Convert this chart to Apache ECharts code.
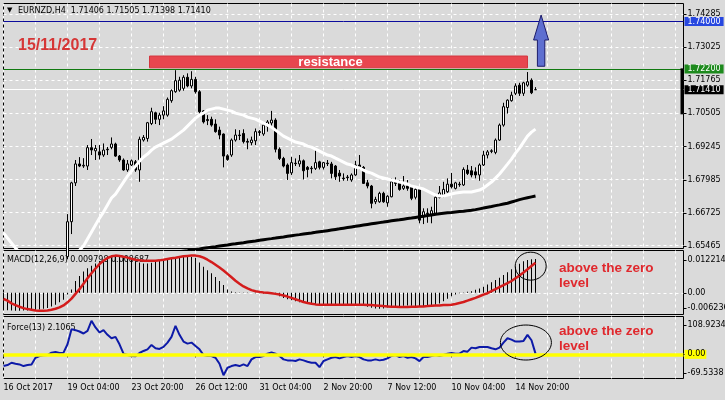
<!DOCTYPE html>
<html><head><meta charset="utf-8">
<script src="https://cdn.jsdelivr.net/npm/echarts@6/dist/echarts.min.js"></script>
<style>html,body{margin:0;padding:0;background:#dadada;}#c{width:725px;height:400px;}</style>
</head><body><div id="c"></div>
<script>
// ---------- data ----------
const xTickLabels = ['16 Oct 2017','19 Oct 04:00','23 Oct 20:00','26 Oct 12:00','31 Oct 04:00','2 Nov 20:00','7 Nov 12:00','10 Nov 04:00','14 Nov 20:00'];
const barSlots = Array.from({length: 171}, (_, k) => String(k)); // H4 bar slots (incl. empty right margin)
const mainTicks = [1.74285, 1.73025, 1.71765, 1.70505, 1.69245, 1.67985, 1.66725, 1.65465];
const levelBlue = 1.74000;
const levelGreen = 1.72200;

const opens = [null,null,null,null,null,null,null,null,null,null,null,null,null,null,null,null,
1.6505,1.6638,1.6786,1.6858,1.6850,1.6850,1.6920,1.6908,1.6904,1.6892,
1.6914,1.6921,1.6934,1.6888,1.6873,1.6835,1.6854,1.6866,1.6835,1.6949,
1.6955,1.7012,1.7053,1.7028,1.7044,1.7044,1.7099,1.7133,1.7139,1.7146,
1.7188,1.7155,1.7180,1.7133,1.7060,1.7027,1.7028,1.7010,1.6987,1.6972,
1.6889,1.6892,1.6949,1.6968,1.6974,1.6944,1.6939,1.6946,1.6981,1.6972,
1.7002,1.7014,1.7025,1.6914,1.6879,1.6854,1.6824,1.6861,1.6858,1.6870,
1.6845,1.6842,1.6841,1.6866,1.6845,1.6861,1.6858,1.6850,1.6823,1.6804,
1.6808,1.6797,1.6816,1.6854,1.6845,1.6786,1.6774,1.6714,1.6714,1.6746,
1.6710,1.6733,1.6790,1.6786,1.6765,1.6774,1.6771,1.6731,1.6761,1.6657,
1.6671,1.6667,1.6670,1.6731,1.6739,1.6752,1.6781,1.6765,1.6781,1.6778,
1.6835,1.6832,1.6828,1.6816,1.6854,1.6892,1.6908,1.6902,1.6949,1.7006,
1.7073,1.7099,1.7127,1.7158,1.7127,1.7158,1.7177,1.71406];
const highs = [null,null,null,null,null,null,null,null,null,null,null,null,null,null,null,null,
1.6667,1.6790,1.6873,1.6884,1.6880,1.6930,1.6953,1.6930,1.6930,1.6936,
1.6923,1.6959,1.6939,1.6892,1.6879,1.6873,1.6875,1.6873,1.6962,1.6968,
1.7018,1.7072,1.7057,1.7053,1.7078,1.7111,1.7142,1.7215,1.7190,1.7196,
1.7203,1.7211,1.7190,1.7139,1.7063,1.7044,1.7038,1.7028,1.7000,1.6974,
1.6895,1.6955,1.6990,1.6987,1.6990,1.6955,1.6962,1.6993,1.6987,1.7012,
1.7025,1.7060,1.7032,1.6921,1.6885,1.6860,1.6885,1.6879,1.6892,1.6875,
1.6850,1.6850,1.6917,1.6870,1.6866,1.6873,1.6866,1.6854,1.6835,1.6822,
1.6816,1.6822,1.6870,1.6892,1.6850,1.6797,1.6778,1.6733,1.6752,1.6752,
1.6739,1.6803,1.6807,1.6797,1.6812,1.6797,1.6778,1.6771,1.6769,1.6689,
1.6689,1.6695,1.6739,1.6774,1.6790,1.6803,1.6824,1.6790,1.6790,1.6845,
1.6854,1.6850,1.6845,1.6860,1.6908,1.6911,1.6914,1.6955,1.7012,1.7091,
1.7104,1.7133,1.7165,1.7167,1.7171,1.7208,1.7184,1.71505];
const lows = [null,null,null,null,null,null,null,null,null,null,null,null,null,null,null,null,
1.6495,1.6591,1.6774,1.6846,1.6843,1.6835,1.6892,1.6873,1.6875,1.6885,
1.6892,1.6914,1.6885,1.6866,1.6832,1.6828,1.6850,1.6828,1.6790,1.6943,
1.6943,1.7006,1.7010,1.7006,1.7028,1.7038,1.7091,1.7129,1.7133,1.7137,
1.7150,1.7146,1.7126,1.7050,1.7012,1.7006,1.7000,1.6977,1.6952,1.6845,
1.6870,1.6885,1.6943,1.6949,1.6936,1.6914,1.6929,1.6930,1.6965,1.6965,
1.6981,1.7000,1.6902,1.6873,1.6845,1.6797,1.6816,1.6850,1.6847,1.6799,
1.6807,1.6822,1.6835,1.6837,1.6837,1.6850,1.6803,1.6797,1.6790,1.6794,
1.6794,1.6790,1.6813,1.6835,1.6782,1.6765,1.6689,1.6705,1.6710,1.6710,
1.6695,1.6731,1.6774,1.6756,1.6759,1.6756,1.6720,1.6723,1.6632,1.6629,
1.6634,1.6632,1.6663,1.6727,1.6731,1.6748,1.6765,1.6761,1.6771,1.6774,
1.6816,1.6807,1.6803,1.6794,1.6850,1.6879,1.6899,1.6895,1.6946,1.7000,
1.7050,1.7095,1.7120,1.7117,1.7117,1.7152,1.7124,1.71398];
const closes = [null,null,null,null,null,null,null,null,null,null,null,null,null,null,null,null,
1.6638,1.6786,1.6858,1.6850,1.6853,1.6920,1.6911,1.6917,1.6892,1.6911,
1.6912,1.6934,1.6888,1.6873,1.6835,1.6858,1.6870,1.6835,1.6952,1.6959,
1.7015,1.7057,1.7028,1.7044,1.7060,1.7104,1.7137,1.7175,1.7177,1.7188,
1.7155,1.7180,1.7133,1.7057,1.7018,1.7023,1.7006,1.6981,1.6968,1.6888,
1.6875,1.6949,1.6968,1.6966,1.6943,1.6941,1.6949,1.6981,1.6978,1.7006,
1.7018,1.7025,1.6914,1.6879,1.6850,1.6822,1.6863,1.6859,1.6870,1.6832,
1.6837,1.6840,1.6863,1.6845,1.6863,1.6859,1.6822,1.6809,1.6812,1.6802,
1.6806,1.6816,1.6854,1.6841,1.6784,1.6774,1.6708,1.6723,1.6746,1.6714,
1.6735,1.6790,1.6784,1.6761,1.6774,1.6765,1.6727,1.6761,1.6644,1.6676,
1.6669,1.6680,1.6731,1.6748,1.6761,1.6781,1.6771,1.6786,1.6779,1.6837,
1.6822,1.6816,1.6816,1.6854,1.6892,1.6904,1.6906,1.6949,1.7006,1.7076,
1.7101,1.7120,1.7155,1.7127,1.7167,1.7171,1.7129,1.71410];

const maFast = [1.65949,1.65758,1.65568,1.65378,1.65225,1.65073,1.64959,1.64845,1.64769,1.64692,
1.64654,1.64616,1.64616,1.64616,1.64654,1.64731,1.64845,1.64997,1.65149,1.65301,
1.65454,1.65720,1.65987,1.66253,1.66519,1.66748,1.67014,1.67281,1.67433,1.67662,
1.67890,1.68118,1.68309,1.68499,1.68689,1.68842,1.68956,1.69108,1.69222,1.69298,
1.69375,1.69451,1.69527,1.69641,1.69755,1.69869,1.70022,1.70174,1.70326,1.70440,
1.70516,1.70631,1.70669,1.70707,1.70707,1.70669,1.70631,1.70593,1.70516,1.70478,
1.70440,1.70364,1.70326,1.70288,1.70212,1.70136,1.70060,1.69984,1.69869,1.69755,
1.69641,1.69565,1.69489,1.69413,1.69375,1.69337,1.69260,1.69222,1.69146,1.69070,
1.68994,1.68918,1.68880,1.68803,1.68727,1.68651,1.68575,1.68537,1.68461,1.68423,
1.68347,1.68271,1.68232,1.68156,1.68080,1.68042,1.68004,1.67966,1.67928,1.67890,
1.67852,1.67814,1.67738,1.67700,1.67662,1.67623,1.67547,1.67471,1.67395,1.67357,
1.67357,1.67395,1.67433,1.67471,1.67490,1.67509,1.67509,1.67509,1.67547,1.67585,
1.67662,1.67776,1.67890,1.68042,1.68195,1.68385,1.68575,1.68766,1.68994,1.69184,
1.69413,1.69641,1.69793,1.69907];
const maSlow = [null,null,null,null,null,null,null,null,null,null,null,null,null,null,null,null,null,null,null,null,
null,null,null,null,null,null,null,null,null,null,null,null,null,null,null,null,null,null,null,null,
1.65149,1.65172,1.65195,1.65214,1.65237,1.65260,1.65279,1.65302,1.65324,1.65343,
1.65366,1.65389,1.65412,1.65431,1.65454,1.65477,1.65496,1.65519,1.65541,1.65564,
1.65583,1.65606,1.65629,1.65648,1.65671,1.65694,1.65717,1.65736,1.65758,1.65781,
1.65800,1.65823,1.65846,1.65869,1.65888,1.65911,1.65934,1.65953,1.65975,1.65998,
1.66017,1.66040,1.66063,1.66086,1.66109,1.66135,1.66158,1.66181,1.66204,1.66230,
1.66253,1.66276,1.66299,1.66322,1.66345,1.66367,1.66390,1.66413,1.66436,1.66455,
1.66478,1.66501,1.66519,1.66542,1.66565,1.66588,1.66615,1.66638,1.66661,1.66683,
1.66702,1.66718,1.66733,1.66752,1.66767,1.66782,1.66801,1.66817,1.66840,1.66870,
1.66900,1.66931,1.66961,1.66992,1.67022,1.67053,1.67083,1.67129,1.67175,1.67220,
1.67258,1.67292,1.67326,1.67360];

const macdMain = [-0.00488,-0.00498,-0.00508,-0.00517,-0.00517,-0.00508,-0.00508,-0.00498,-0.00488,-0.00478,
-0.00459,-0.00439,-0.00390,-0.00342,-0.00273,-0.00195,-0.00049,0.00098,0.00342,0.00488,
0.00615,0.00712,0.00781,0.00849,0.00908,0.00956,0.01005,0.01025,0.01044,0.01044,
0.01025,0.00996,0.00947,0.00908,0.00878,0.00849,0.00849,0.00869,0.00888,0.00927,
0.00947,0.00956,0.00976,0.01005,0.01025,0.01035,0.01044,0.01035,0.01015,0.00878,
0.00752,0.00654,0.00566,0.00459,0.00342,0.00224,0.00098,0.00039,0.00020,0.00010,
0.00010,0.00010,0.00002,-0.00010,-0.00010,-0.00020,-0.00029,-0.00029,-0.00049,-0.00098,
-0.00146,-0.00185,-0.00215,-0.00244,-0.00273,-0.00293,-0.00312,-0.00322,-0.00332,-0.00342,
-0.00342,-0.00342,-0.00342,-0.00342,-0.00342,-0.00342,-0.00342,-0.00342,-0.00342,-0.00351,
-0.00361,-0.00400,-0.00429,-0.00449,-0.00459,-0.00449,-0.00420,-0.00400,-0.00390,-0.00381,
-0.00371,-0.00361,-0.00371,-0.00400,-0.00400,-0.00390,-0.00381,-0.00361,-0.00342,-0.00303,
-0.00244,-0.00166,-0.00098,-0.00049,-0.00010,0.00010,0.00029,0.00049,0.00088,0.00127,
0.00176,0.00244,0.00303,0.00371,0.00439,0.00517,0.00595,0.00683,0.00761,0.00839,
0.00908,0.00947,0.00966,0.00976];
const macdSignal = [-0.00176,-0.00224,-0.00303,-0.00351,-0.00400,-0.00439,-0.00468,-0.00488,-0.00508,-0.00517,
-0.00517,-0.00508,-0.00488,-0.00459,-0.00420,-0.00361,-0.00273,-0.00166,-0.00029,0.00107,
0.00264,0.00420,0.00566,0.00703,0.00830,0.00927,0.01005,0.01054,0.01074,0.01064,
0.01044,0.01015,0.00986,0.00956,0.00937,0.00927,0.00927,0.00927,0.00927,0.00937,
0.00956,0.00976,0.00996,0.01015,0.01035,0.01054,0.01064,0.01074,0.01074,0.01054,
0.01015,0.00956,0.00888,0.00810,0.00732,0.00644,0.00547,0.00449,0.00351,0.00264,
0.00185,0.00127,0.00078,0.00049,0.00029,0.00010,0.00000,-0.00010,-0.00029,-0.00049,
-0.00078,-0.00107,-0.00146,-0.00185,-0.00224,-0.00264,-0.00293,-0.00312,-0.00332,-0.00342,
-0.00342,-0.00342,-0.00342,-0.00342,-0.00342,-0.00342,-0.00342,-0.00342,-0.00342,-0.00342,
-0.00342,-0.00351,-0.00351,-0.00361,-0.00371,-0.00381,-0.00390,-0.00400,-0.00400,-0.00410,
-0.00410,-0.00410,-0.00400,-0.00400,-0.00390,-0.00390,-0.00381,-0.00371,-0.00361,-0.00361,
-0.00351,-0.00351,-0.00342,-0.00322,-0.00293,-0.00264,-0.00224,-0.00185,-0.00146,-0.00098,
-0.00049,-0.00010,0.00049,0.00107,0.00166,0.00224,0.00283,0.00342,0.00420,0.00498,
0.00586,0.00680,0.00775,0.00869];
const force = [-33.8,-30.9,-24.2,-27.1,-29.0,-33.8,-30.9,-29.0,-9.7,-4.8,
-2.9,-1.9,4.8,6.8,3.9,4.8,29.0,72.5,69.6,65.8,
60.0,67.7,96.7,77.4,62.9,69.6,56.1,46.4,50.3,29.0,
1.9,-1.9,-4.8,-5.8,3.9,9.7,14.5,27.1,17.4,15.5,
21.3,33.8,50.3,82.2,56.1,36.7,30.9,33.8,24.2,14.5,
-1.9,-4.8,-4.8,-9.7,-27.1,-60.0,-38.7,-33.8,-30.9,-33.8,
-29.0,-33.8,-14.5,-7.7,-7.7,-4.8,1.9,5.8,1.9,-4.8,
-14.5,-17.4,-17.4,-19.3,-14.5,-17.4,-21.3,-24.2,-24.2,-36.7,
-19.3,-14.5,-9.7,-7.7,-11.6,-7.7,-4.8,-7.7,-4.8,-7.7,
-14.5,-17.4,-17.4,-14.5,-17.4,-15.5,-11.6,-4.8,-1.9,-7.7,
-4.8,-9.7,-7.7,-11.6,-19.3,-7.7,-7.7,-4.8,-1.9,-4.8,
-1.9,1.9,3.9,1.9,1.9,9.7,7.7,19.3,17.4,21.3,
21.3,21.3,17.4,14.5,19.3,33.8,46.4,42.5,36.7,36.7,
38.7,56.1,40.6,2.1065];
const macdRange = [-0.006236, 0.012214];
const forceRange = [-69.5338, 108.9234];
const macdTitle = 'MACD(12,26,9) 0.009798 0.008687';
const forceTitle = 'Force(13) 2.1065';
const dateTitle = '15/11/2017';

// ---------- chart ----------
const dash = (v) => v == null ? '-' : v;
const candleData = opens.map((o, k) => o == null ? ['-','-','-','-'] : [o, closes[k], lows[k], highs[k]]);
const FONT = 'DejaVu Sans';
const GRID_L = 3.5, GRID_W = 680;
const G0 = {top: 3.5, h: 245}, G1 = {top: 250.5, h: 64}, G2 = {top: 316.5, h: 62};

function xAx(grid, labels) {
  const tickInt = (i) => i % 16 === 0 && i <= 128;
  return {
    type: 'category', gridIndex: grid, data: barSlots, boundaryGap: false,
    axisLine: {show: false},
    axisTick: labels ? {show: true, interval: tickInt, length: 3, lineStyle: {color: '#000'}} : {show: false},
    axisLabel: labels ? {show: true, interval: tickInt, formatter: (v, i) => xTickLabels[i / 16] || '',
      align: 'left', color: '#000', fontFamily: FONT, fontSize: 8, margin: 5} : {show: false},
    splitLine: {show: true, interval: (i) => i % 8 === 0, lineStyle: {color: '#ffffff', type: [3, 3], width: 1}}
  };
}
const gridStyle = {show: true, borderColor: '#000', borderWidth: 1, backgroundColor: 'transparent'};

const option = {
  backgroundColor: '#dadada',
  animation: false,
  grid: [
    Object.assign({left: GRID_L, width: GRID_W, top: G0.top, height: G0.h}, gridStyle),
    Object.assign({left: GRID_L, width: GRID_W, top: G1.top, height: G1.h}, gridStyle),
    Object.assign({left: GRID_L, width: GRID_W, top: G2.top, height: G2.h}, gridStyle)
  ],
  xAxis: [xAx(0, false), xAx(1, false), xAx(2, true)],
  yAxis: [
    {type: 'value', gridIndex: 0, min: 1.6536, max: 1.7469, show: false},
    {type: 'value', gridIndex: 1, min: macdRange[0], max: macdRange[1], show: false},
    {type: 'value', gridIndex: 2, min: forceRange[0], max: forceRange[1], show: false}
  ],
  series: [
    {type: 'line', xAxisIndex: 0, yAxisIndex: 0, data: [], z: 1, silent: true,
      markLine: {silent: true, symbol: 'none', z: 1, precision: 6, animation: false, label: {show: false},
        lineStyle: {color: '#ffffff', type: [3, 3], width: 1},
        data: mainTicks.map(v => ({yAxis: v}))}},
    {type: 'line', xAxisIndex: 0, yAxisIndex: 0, data: [], z: 2, silent: true,
      markLine: {silent: true, symbol: 'none', z: 2, precision: 6, animation: false, label: {show: false},
        data: [
          {yAxis: levelBlue, lineStyle: {color: '#0c0c9c', width: 1, type: 'solid'}},
          {yAxis: levelGreen, lineStyle: {color: '#117a11', width: 1, type: 'solid'}},
          {yAxis: closes[133], lineStyle: {color: '#ffffff', width: 1, type: 'solid'}}
        ]}},
    {type: 'candlestick', xAxisIndex: 0, yAxisIndex: 0, data: candleData, barWidth: 3, z: 3, silent: true,
      itemStyle: {color: '#ffffff', color0: '#000000', borderColor: '#000000', borderColor0: '#000000',
        borderColorDoji: '#000000', borderWidth: 1}},
    {type: 'line', xAxisIndex: 0, yAxisIndex: 0, data: maFast.map(dash), symbol: 'none', z: 4, silent: true,
      lineStyle: {color: '#ffffff', width: 3}},
    {type: 'line', xAxisIndex: 0, yAxisIndex: 0, data: maSlow.map(dash), symbol: 'none', z: 4, silent: true,
      lineStyle: {color: '#000000', width: 3}},
    {type: 'bar', xAxisIndex: 1, yAxisIndex: 1, data: macdMain, barWidth: 1, z: 2, silent: true,
      itemStyle: {color: '#000000'},
      markLine: {silent: true, symbol: 'none', z: 1, precision: 6, animation: false, label: {show: false},
        lineStyle: {color: '#ffffff', type: [3, 3], width: 1}, data: [{yAxis: 0}]}},
    {type: 'line', xAxisIndex: 1, yAxisIndex: 1, data: macdSignal, symbol: 'none', z: 3, silent: true,
      lineStyle: {color: '#d41c1c', width: 2.5}},
    {type: 'line', xAxisIndex: 2, yAxisIndex: 2, data: force, symbol: 'none', z: 2, silent: true,
      lineStyle: {color: '#0d1aa8', width: 2},
      markLine: {silent: true, symbol: 'none', z: 5, precision: 6, animation: false, label: {show: false},
        lineStyle: {color: '#ffff00', width: 3.5, type: 'solid'}, data: [{yAxis: 0}]}}
  ]
};

const chart = echarts.init(document.getElementById('c'), null, {renderer: 'canvas'});
chart.setOption(option);

// ---------- annotations (positioned through the chart's own scales) ----------
const x0 = chart.convertToPixel({xAxisIndex: 0}, barSlots[0]);
const x170 = chart.convertToPixel({xAxisIndex: 0}, barSlots[170]);
const xAt = (k) => x0 + (x170 - x0) * k / 170;
const yAt = (a, v) => chart.convertToPixel({yAxisIndex: a}, v);
const RIGHT = GRID_L + GRID_W;

function T(x, y, text, style, z) {
  return {type: 'text', x, y, z: z == null ? 50 : z, silent: true,
    style: Object.assign({text, fill: '#000', fontFamily: FONT, fontSize: 8, align: 'left', verticalAlign: 'middle'}, style || {})};
}
function tick(y) {
  return {type: 'line', z: 50, silent: true, shape: {x1: RIGHT, y1: Math.round(y) + 0.5, x2: RIGHT + 3, y2: Math.round(y) + 0.5},
    style: {stroke: '#000', lineWidth: 1}};
}
const els = [];
// header
els.push(T(7, 10.5, '\u25BC', {fontSize: 7}));
els.push(T(18, 10.5, 'EURNZD,H4  ' + [opens[133], highs[133], lows[133], closes[133]].map(v => v.toFixed(5)).join(' ')));
els.push(T(18, 45.5, dateTitle, {fill: '#d63636', fontFamily: 'Liberation Sans', fontSize: 16, fontWeight: 'bold'}));
// main price scale
mainTicks.forEach(v => { const y = yAt(0, v); els.push(tick(y)); els.push(T(RIGHT + 4, y, v.toFixed(5))); });
els.push(T(RIGHT + 1, yAt(0, levelBlue), levelBlue.toFixed(5), {fill: '#fff', backgroundColor: '#2747e0', padding: [1, 3, 0, 3]}, 60));
els.push(T(RIGHT + 1, yAt(0, levelGreen), levelGreen.toFixed(5), {fill: '#fff', backgroundColor: '#1d8a1d', padding: [1, 3, 0, 3]}, 60));
els.push(T(RIGHT + 1, yAt(0, closes[133]), closes[133].toFixed(5), {fill: '#fff', backgroundColor: '#000', padding: [1, 3, 0, 3]}, 60));
// black marker on the price scale edge
{
  const ya = yAt(0, 1.7222), yb = yAt(0, 1.7047);
  els.push({type: 'rect', z: 55, silent: true, shape: {x: RIGHT - 3, y: ya, width: 3, height: yb - ya}, style: {fill: '#000'}});
}
// resistance zone
{
  const xa = xAt(36.5), xb = xAt(131), ya = yAt(0, 1.7269), yb = yAt(0, 1.7224);
  els.push({type: 'rect', z: 10, silent: true, shape: {x: xa, y: ya, width: xb - xa, height: yb - ya},
    style: {fill: '#e8464f', stroke: '#d3363e', lineWidth: 1}});
  els.push(T(xAt(81.75), (ya + yb) / 2, 'resistance',
    {fill: '#ffffff', align: 'center', fontFamily: 'Liberation Sans', fontSize: 13, fontWeight: 'bold'}, 11));
}
// up arrow
{
  const xc = xAt(134.4), yb = yAt(0, 1.7230), yh = yAt(0, 1.7330), yt = yAt(0, 1.7425);
  els.push({type: 'polygon', z: 12, silent: true,
    shape: {points: [[xc - 3.7, yb], [xc + 3.7, yb], [xc + 3.7, yh], [xc + 7.5, yh], [xc, yt], [xc - 7.5, yh], [xc - 3.7, yh]]},
    style: {fill: '#5e6fd0', stroke: '#1c1c6a', lineWidth: 1}});
}
// indicator panel titles and scales
els.push(T(7, G1.top + 9, macdTitle, null, 1));
els.push(T(7, G2.top + 11.5, forceTitle, null, 1));
[[G1.top + 9.5, macdRange[1].toFixed(6)], [yAt(1, 0), '0.00'], [G1.top + G1.h - 6.5, macdRange[0].toFixed(6)]]
  .forEach(([y, s]) => { els.push(tick(y)); els.push(T(RIGHT + 4, y, s)); });
[[G2.top + 8.5, forceRange[1].toFixed(4)], [G2.top + G2.h - 6, forceRange[0].toFixed(4)]]
  .forEach(([y, s]) => { els.push(tick(y)); els.push(T(RIGHT + 4, y, s)); });
els.push(tick(yAt(2, 0)));
els.push(T(RIGHT + 1, yAt(2, 0), '0.00', {backgroundColor: '#ffff00', padding: [1, 1, 0, 3]}, 60));
// ellipses and notes
els.push({type: 'ellipse', z: 20, silent: true, shape: {cx: xAt(131.8), cy: yAt(1, 0.0077), rx: 15.5, ry: 14},
  style: {fill: 'none', stroke: '#000', lineWidth: 1}});
els.push({type: 'ellipse', z: 20, silent: true, shape: {cx: xAt(130.6), cy: yAt(2, 34), rx: 25.5, ry: 17.5},
  style: {fill: 'none', stroke: '#000', lineWidth: 1}});
const noteStyle = {fill: '#e0282d', fontFamily: 'Liberation Sans', fontSize: 13.5, fontWeight: 'bold'};
els.push(T(559, G1.top + 17.5, 'above the zero', noteStyle));
els.push(T(559, G1.top + 33, 'level', noteStyle));
els.push(T(559, G2.top + 14.5, 'above the zero', noteStyle));
els.push(T(559, G2.top + 29.5, 'level', noteStyle));

chart.setOption({graphic: {elements: els}});
</script>
</body></html>
